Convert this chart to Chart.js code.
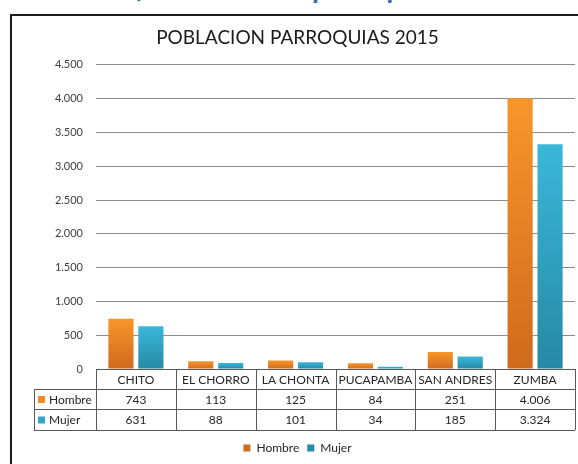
<!DOCTYPE html>
<html>
<head>
<meta charset="utf-8">
<script src="https://cdn.jsdelivr.net/npm/chart.js@4.4.0/dist/chart.umd.min.js"></script>
<style>
  html, body { margin: 0; padding: 0; background: #fff; overflow: hidden; }
  #page { position: relative; width: 578px; height: 464px; overflow: hidden; }
  #caption {
    position: absolute; left: 0; width: 610px; top: -27px; text-align: center;
    font: italic bold 29px Lato, sans-serif; color: #3b6aa9; line-height: 28px; white-space: nowrap;
  }
  #frame {
    position: absolute; left: 10px; top: 14px; width: 620px; height: 520px;
    border: 2px solid #1e1e1e; box-shadow: 1px 1px 2px #999;
  }
  #wrap { position: absolute; left: 0; top: 0; width: 598px; height: 464px; }
</style>
</head>
<body>
<div id="page">
  <div id="caption">Gráfico Población parroquias 2015</div>
  <div id="frame"></div>
  <div id="wrap"><canvas id="poblacionChart"></canvas></div>
</div>
<script>
const categories = ['CHITO', 'EL CHORRO', 'LA CHONTA', 'PUCAPAMBA', 'SAN ANDRES', 'ZUMBA'];
const hombre = [743, 113, 125, 84, 251, 4006];
const mujer = [631, 88, 101, 34, 185, 3324];
const yMax = 4500;
const yStep = 500;

const fmt = v => String(v).replace(/\B(?=(\d{3})+(?!\d))/g, '.');
const FONT = 'Lato, "Open Sans", sans-serif';

function barGradient(top, bottom) {
  return function (c) {
    const chart = c.chart;
    if (c.type !== 'data' || !chart.chartArea || !chart.scales.y) return top;
    const ys = chart.scales.y;
    const y0 = ys.getPixelForValue(c.raw);
    const y1 = ys.getPixelForValue(0);
    if (!isFinite(y0) || y1 - y0 < 1) return top;
    const g = chart.ctx.createLinearGradient(0, y0, 0, y1);
    g.addColorStop(0, top);
    g.addColorStop(1, bottom);
    return g;
  };
}

// data table under the plot, drawn from the x scale
const dataTable = {
  id: 'dataTable',
  afterDraw(chart) {
    const {ctx, chartArea} = chart;
    const n = categories.length;
    const colW = chartArea.width / n;
    const left = chartArea.left, right = chartArea.right;
    const labelLeft = 34;
    const r0 = chartArea.bottom, r1 = r0 + 20, r2 = r1 + 20, r3 = r2 + 21;
    ctx.save();
    ctx.strokeStyle = '#595959';
    ctx.lineWidth = 1;
    ctx.beginPath();
    ctx.moveTo(left, r0 + 0.5); ctx.lineTo(right, r0 + 0.5);
    [r1, r2, r3].forEach(y => { ctx.moveTo(labelLeft, y + 0.5); ctx.lineTo(right, y + 0.5); });
    ctx.moveTo(labelLeft + 0.5, r1); ctx.lineTo(labelLeft + 0.5, r3);
    for (let i = 0; i <= n; i++) {
      const x = Math.round(left + i * colW) + 0.5;
      ctx.moveTo(x, r0); ctx.lineTo(x, r3);
    }
    ctx.stroke();

    ctx.fillStyle = '#262626';
    ctx.font = '12px ' + FONT;
    ctx.textAlign = 'center';
    ctx.textBaseline = 'middle';
    const xs = chart.scales.x;
    categories.forEach((c, i) => {
      const x = xs.getPixelForTick(i);
      ctx.fillText(c, x, (r0 + r1) / 2 + 1);
      ctx.fillText(fmt(hombre[i]), x, (r1 + r2) / 2 + 1);
      ctx.fillText(fmt(mujer[i]), x, (r2 + r3) / 2 + 1);
    });
    const rows = [['Hombre', '#f08a24', (r1 + r2) / 2], ['Mujer', '#31a8c9', (r2 + r3) / 2]];
    ctx.textAlign = 'left';
    rows.forEach(([name, col, y]) => {
      ctx.fillStyle = col;
      ctx.fillRect(labelLeft + 4, y - 3, 7, 7);
      ctx.fillStyle = '#262626';
      ctx.fillText(name, labelLeft + 15, y + 1);
    });
    ctx.restore();
  }
};

new Chart(document.getElementById('poblacionChart'), {
  type: 'bar',
  data: {
    labels: categories,
    datasets: [{
      label: 'Hombre',
      data: hombre,
      backgroundColor: barGradient('#f8962a', '#d06a1d'),
      categoryPercentage: 0.75,
      barPercentage: 0.84
    }, {
      label: 'Mujer',
      data: mujer,
      backgroundColor: barGradient('#3bb7da', '#2589a4'),
      categoryPercentage: 0.75,
      barPercentage: 0.84
    }]
  },
  options: {
    responsive: true,
    maintainAspectRatio: false,
    animation: false,
    layout: { padding: { left: 20, right: 23, top: 0, bottom: 0 } },
    plugins: {
      title: {
        display: true,
        text: 'POBLACION PARROQUIAS 2015',
        color: '#1a1a1a',
        font: { family: FONT, size: 19, weight: 'normal' },
        padding: { top: 26, bottom: 16 }
      },
      legend: {
        position: 'bottom',
        labels: {
          boxWidth: 7, boxHeight: 7, padding: 8,
          color: '#262626',
          font: { family: FONT, size: 12 }
        }
      },
      tooltip: { enabled: false }
    },
    scales: {
      x: {
        ticks: { display: false },
        grid: { display: false },
        border: { display: false },
        afterFit: s => { s.height = 65; }
      },
      y: {
        min: 0, max: yMax,
        ticks: { stepSize: yStep, padding: 13, color: '#404040', font: { family: FONT, size: 11 }, callback: v => fmt(v) },
        grid: { color: '#8c8c8c', drawTicks: false },
        border: { display: false },
        afterFit: s => { s.width = 76; }
      }
    }
  },
  plugins: [dataTable]
});
</script>
</body>
</html>
